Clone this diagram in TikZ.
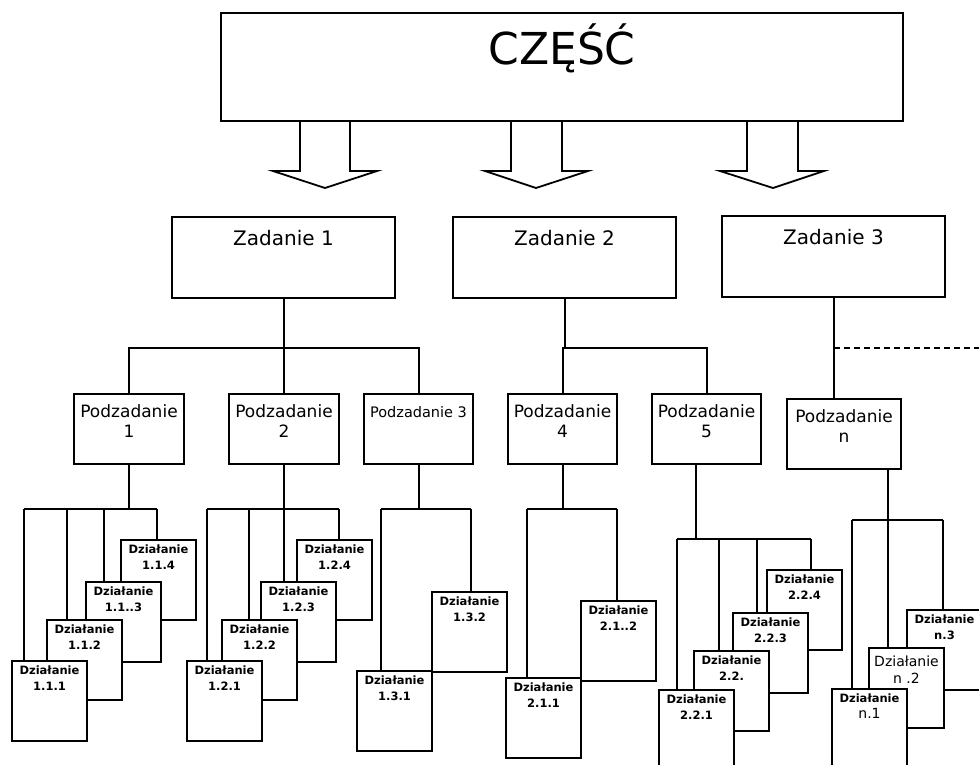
\documentclass[tikz,border=0pt]{standalone}
\usepackage{fontspec}
\setmainfont{DejaVu Sans}
\begin{document}
\begin{tikzpicture}[x=1pt,y=-1pt,
  topbox/.style={draw, line width=1.8pt, fill=white, inner sep=0pt, outer sep=0pt, anchor=north west},
  zbox/.style={topbox, minimum width=223pt, minimum height=81pt},
  pbox/.style={draw, line width=2pt, fill=white, inner sep=0pt, outer sep=0pt, anchor=north west, minimum height=70pt},
  dbox/.style={draw, line width=2pt, fill=white, inner sep=0pt, outer sep=0pt, anchor=north west, minimum width=75pt, minimum height=80pt},
  dtxt/.style={anchor=north, inner sep=0pt, align=center, yshift=-5pt, font=\bfseries\fontsize{11.5}{16}\selectfont},
  ptxt/.style={anchor=north, inner sep=0pt, align=center, font=\fontsize{17}{20}\selectfont},
  ztxt/.style={anchor=base, inner sep=0pt, font=\fontsize{20}{24}\selectfont},
  conn/.style={line width=2pt},
  barrow/.style={line width=1.8pt, fill=white, line join=miter}
]
\useasboundingbox (0,0) rectangle (979,764);

% ---------- top level with block arrows ----------
\filldraw[barrow] (300,121) -- (300,171) -- (273,171) -- (325,188) -- (377,171) -- (350,171) -- (350,121);
\filldraw[barrow] (511,121) -- (511,171) -- (485,171) -- (536,188) -- (588,171) -- (562,171) -- (562,121);
\filldraw[barrow] (747,121) -- (747,171) -- (720,171) -- (773,188) -- (824,171) -- (798,171) -- (798,121);
\node[topbox, minimum width=682pt, minimum height=108pt] (czesc) at (221,13) {};
\node[anchor=base, inner sep=0pt, font=\fontsize{44}{50}\selectfont] (czesct) at (562,64) {CZĘŚĆ};

% ---------- Zadanie ----------
\node[zbox] (z1) at (172,217) {};
\node[zbox] (z2) at (453,217) {};
\node[zbox] (z3) at (722,216) {};
\node[ztxt] (z1t) at (283.5,245) {Zadanie 1};
\node[ztxt] (z2t) at (564.5,245) {Zadanie 2};
\node[ztxt] (z3t) at (833.5,244) {Zadanie 3};

% ---------- Podzadanie ----------
\node[pbox, minimum width=110pt] (p1) at (74,394) {};
\node[pbox, minimum width=110pt] (p2) at (229,394) {};
\node[pbox, minimum width=109pt] (p3) at (364,394) {};
\node[pbox, minimum width=109pt] (p4) at (508,394) {};
\node[pbox, minimum width=109pt] (p5) at (652,394) {};
\node[pbox, minimum width=114pt] (pn) at (787,399) {};
\node[ptxt] (p1t) at (129,404) {Podzadanie\\1};
\node[ptxt] (p2t) at (284,404) {Podzadanie\\2};
\node[ptxt, font=\fontsize{14.5}{18}\selectfont] (p3t) at (418.5,406) {Podzadanie 3};
\node[ptxt] (p4t) at (562.5,404) {Podzadanie\\4};
\node[ptxt] (p5t) at (706.5,404) {Podzadanie\\5};
\node[ptxt] (pnt) at (844,409) {Podzadanie\\n};

% level 2 connectors
\path (z1.south) ++(0,50) coordinate (j1);
\path (z2.south) ++(0,50) coordinate (j2);
\coordinate (dend) at (979,348);
\draw[conn] (p1.north) |- (j1) -| (p3.north);
\draw[conn] (z1.south) -- (z1.south |- p2.north);
\draw[conn] (z2.south) -- (j2);
\draw[conn] (p4.north) |- (j2) -| (p5.north);
\draw[conn] (z3.south) -- (z3.south |- pn.north);
\draw[conn, dashed, dash pattern=on 6pt off 4pt] (z3.south |- dend) -- (dend);

% ---------- Dzialanie group 1.1 ----------
\node[dbox] (a114) at (121,540) {};
\node[dbox] (a113) at (86,582) {};
\node[dbox] (a112) at (47,620) {};
\node[dbox] (a111) at (12,661) {};
\node[dtxt] (a114t) at (a114.north) {Działanie\\1.1.4};
\node[dtxt] (a113t) at (a113.north) {Działanie\\1.1..3};
\node[dtxt] (a112t) at (a112.north) {Działanie\\1.1.2};
\node[dtxt] (a111t) at (a111.north) {Działanie\\1.1.1};
\coordinate (b111) at (24,509); \coordinate (b112) at (67,509);
\coordinate (b113) at (104,509); \coordinate (b114) at (157,509);
\draw[conn] (b111) -- (b114);
\draw[conn] (p1.south) -- (p1.south |- b111);
\draw[conn] (b111) -- (b111 |- a111.north);
\draw[conn] (b112) -- (b112 |- a112.north);
\draw[conn] (b113) -- (b113 |- a113.north);
\draw[conn] (b114) -- (b114 |- a114.north);

% ---------- group 1.2 ----------
\node[dbox] (a124) at (297,540) {};
\node[dbox] (a123) at (261,582) {};
\node[dbox] (a122) at (222,620) {};
\node[dbox] (a121) at (187,661) {};
\node[dtxt] (a124t) at (a124.north) {Działanie\\1.2.4};
\node[dtxt] (a123t) at (a123.north) {Działanie\\1.2.3};
\node[dtxt] (a122t) at (a122.north) {Działanie\\1.2.2};
\node[dtxt] (a121t) at (a121.north) {Działanie\\1.2.1};
\coordinate (b121) at (207,509); \coordinate (b122) at (249,509);
\coordinate (b123) at (284,509); \coordinate (b124) at (339,509);
\draw[conn] (b121) -- (b124);
\draw[conn] (p2.south) -- (b123);
\draw[conn] (b121) -- (b121 |- a121.north);
\draw[conn] (b122) -- (b122 |- a122.north);
\draw[conn] (b123) -- (b123 |- a123.north);
\draw[conn] (b124) -- (b124 |- a124.north);

% ---------- group 1.3 ----------
\node[dbox] (a132) at (432,592) {};
\node[dbox] (a131) at (357,671) {};
\node[dtxt] (a132t) at (a132.north) {Działanie\\1.3.2};
\node[dtxt] (a131t) at (a131.north) {Działanie\\1.3.1};
\coordinate (b131) at (381,509); \coordinate (b132) at (471,509);
\draw[conn] (b131) -- (b132);
\draw[conn] (p3.south) -- (p3.south |- b131);
\draw[conn] (b131) -- (b131 |- a131.north);
\draw[conn] (b132) -- (b132 |- a132.north);

% ---------- group 2.1 ----------
\node[dbox] (a212) at (581,601) {};
\node[dbox] (a211) at (506,678) {};
\node[dtxt] (a212t) at (a212.north) {Działanie\\2.1..2};
\node[dtxt] (a211t) at (a211.north) {Działanie\\2.1.1};
\coordinate (b211) at (527,509); \coordinate (b212) at (617,509);
\draw[conn] (b211) -- (b212);
\draw[conn] (p4.south) -- (p4.south |- b211);
\draw[conn] (b211) -- (b211 |- a211.north);
\draw[conn] (b212) -- (b212 |- a212.north);

% ---------- group 2.2 ----------
\node[dbox] (a224) at (767,570) {};
\node[dbox] (a223) at (733,613) {};
\node[dbox] (a222) at (694,651) {};
\node[dbox] (a221) at (659,690) {};
\node[dtxt] (a224t) at (a224.north) {Działanie\\2.2.4};
\node[dtxt] (a223t) at (a223.north) {Działanie\\2.2.3};
\node[dtxt] (a222t) at (a222.north) {Działanie\\2.2.};
\node[dtxt] (a221t) at (a221.north) {Działanie\\2.2.1};
\coordinate (b221) at (677,539); \coordinate (b222) at (719,539);
\coordinate (b223) at (757,539); \coordinate (b224) at (811,539);
\coordinate (j22) at (696,539);
\draw[conn] (b221) -- (b224);
\draw[conn] (j22 |- p5.south) -- (j22);
\draw[conn] (b221) -- (b221 |- a221.north);
\draw[conn] (b222) -- (b222 |- a222.north);
\draw[conn] (b223) -- (b223 |- a223.north);
\draw[conn] (b224) -- (b224 |- a224.north);

% ---------- group n ----------
\node[dbox] (an3) at (907,610) {};
\node[dbox] (an2) at (869,648) {};
\node[dbox] (an1) at (832,689) {};
\node[dtxt] (an3t) at (an3.north) {Działanie\\n.3};
\node[dtxt, yshift=-3pt, font=\fontsize{14}{17}\selectfont] (an2t) at (an2.north) {Działanie\\n .2};
\node[dtxt] (an1t) at (an1.north) {Działanie\\{\mdseries\fontsize{14}{17}\selectfont n.1}};
\coordinate (bn1) at (852,520); \coordinate (bn2) at (888,520); \coordinate (bn3) at (943,520);
\draw[conn] (bn1) -- (bn3);
\draw[conn] (bn2 |- pn.south) -- (bn2 |- an2.north);
\draw[conn] (bn1) -- (bn1 |- an1.north);
\draw[conn] (bn3) -- (bn3 |- an3.north);
\end{tikzpicture}
\end{document}
